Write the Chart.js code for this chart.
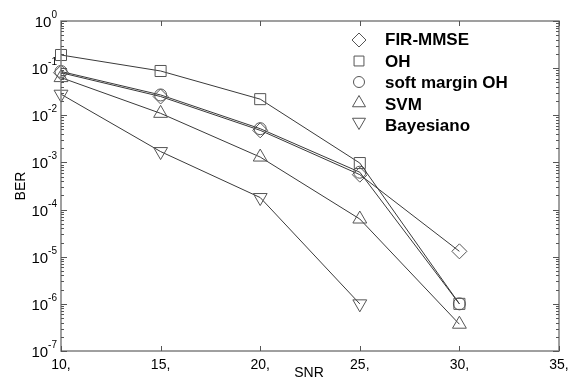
<!DOCTYPE html>
<html>
<head>
<meta charset="UTF-8">
<title>BER x SNR</title>
<script src="https://cdn.jsdelivr.net/npm/chart.js"></script>
<style>
  html, body { margin: 0; padding: 0; background: #fff; }
  #wrap { width: 573px; height: 387px; }
</style>
</head>
<body>
<div id="wrap"><canvas id="grafico"></canvas></div>
<script>
    // valores
    const snr = [10, 15, 20, 25, 30];
    const firMmse = [0.08, 0.025, 0.0048, 0.00055, 0.000013];
    const oh = [0.19, 0.087, 0.022, 0.00097, 0.000001];
    const softOh = [0.085, 0.027, 0.0052, 0.00062, 0.000001];
    const svm = [0.063, 0.011, 0.0013, 0.000063, 0.00000037];
    const bayesiano = [0.028, 0.0017, 0.00018, 0.000001];

    const xTicks = [10, 15, 20, 25, 30, 35];
    const yExp = [0, -1, -2, -3, -4, -5, -6, -7];
    const nomes = ['FIR-MMSE', 'OH', 'soft margin OH', 'SVM', 'Bayesiano'];

    const fonte = '"Liberation Sans", Arial, sans-serif';
    const corLinha = '#3a3a3a';
    const corMarca = '#555555';
    const corEixo = '#808080';

    function pontos(ys) {
        return ys.map((v, i) => ({ x: snr[i], y: v }));
    }

    const estilos = [
        { pointStyle: 'rectRot', pointRadius: 7.5, rotation: 0, leg: 7 },
        { pointStyle: 'rect', pointRadius: 7.8, rotation: 0, leg: 7 },
        { pointStyle: 'circle', pointRadius: 6, rotation: 0, leg: 5.5 },
        { pointStyle: 'triangle', pointRadius: 8, rotation: 0, leg: 7.5 },
        { pointStyle: 'triangle', pointRadius: 8, rotation: 180, leg: 7.5 }
    ];
    const series = [firMmse, oh, softOh, svm, bayesiano];

    const datasets = series.map((s, i) => ({
        label: nomes[i],
        data: pontos(s),
        borderColor: corLinha,
        borderWidth: 1,
        pointStyle: estilos[i].pointStyle,
        pointRadius: estilos[i].pointRadius,
        pointRotation: estilos[i].rotation,
        pointBorderColor: corMarca,
        pointBorderWidth: 1,
        pointBackgroundColor: 'rgba(0,0,0,0)',
        tension: 0,
        fill: false,
        clip: false
    }));

    const moldura = {
        id: 'moldura',
        afterDraw(chart) {
            const ctx = chart.ctx;
            const a = chart.chartArea;
            const xs = chart.scales.x;
            const ys = chart.scales.y;
            ctx.save();

            // caixa dos eixos
            ctx.strokeStyle = corEixo;
            ctx.lineWidth = 1.5;
            ctx.strokeRect(a.left, a.top, a.right - a.left, a.bottom - a.top);

            // ticks do eixo x (para dentro)
            ctx.lineWidth = 1;
            ctx.strokeStyle = '#555';
            xTicks.forEach(v => {
                const px = Math.round(xs.getPixelForValue(v)) + 0.5;
                ctx.beginPath();
                ctx.moveTo(px, a.bottom); ctx.lineTo(px, a.bottom - 5);
                ctx.moveTo(px, a.top); ctx.lineTo(px, a.top + 5);
                ctx.stroke();
            });

            // ticks do eixo y, maiores e menores
            for (let d = -7; d <= 0; d++) {
                for (let m = 1; m <= 9; m++) {
                    const v = m * Math.pow(10, d);
                    if (v > 1) break;
                    const py = Math.round(ys.getPixelForValue(v)) + 0.5;
                    const len = m === 1 ? 6 : 3;
                    ctx.beginPath();
                    ctx.moveTo(a.left, py); ctx.lineTo(a.left + len, py);
                    ctx.moveTo(a.right, py); ctx.lineTo(a.right - len, py);
                    ctx.stroke();
                }
            }

            // rotulos
            ctx.fillStyle = '#000';
            ctx.textBaseline = 'alphabetic';
            ctx.font = '14px ' + fonte;
            ctx.textAlign = 'center';
            xTicks.forEach(v => {
                ctx.fillText(v + ',', xs.getPixelForValue(v), a.bottom + 18);
            });

            yExp.forEach(e => {
                const py = ys.getPixelForValue(Math.pow(10, e));
                ctx.font = '10px ' + fonte;
                const txtE = String(e);
                const wE = ctx.measureText(txtE).width;
                ctx.textAlign = 'left';
                const xE = a.left - 4 - wE;
                ctx.fillText(txtE, xE, py - 3);
                ctx.font = '15px ' + fonte;
                ctx.textAlign = 'right';
                ctx.fillText('10', xE, py + 6);
            });

            // titulos dos eixos
            ctx.font = '14px ' + fonte;
            ctx.textAlign = 'center';
            ctx.fillText('SNR', 309, 377);
            ctx.save();
            ctx.translate(25, 186);
            ctx.rotate(-Math.PI / 2);
            ctx.fillText('BER', 0, 0);
            ctx.restore();

            // legenda
            const marcasY = [40, 61, 82, 103, 122];
            const textoY = [45, 67, 88, 110, 131];
            nomes.forEach((n, i) => {
                ctx.lineWidth = 1;
                ctx.strokeStyle = corMarca;
                ctx.fillStyle = 'rgba(0,0,0,0)';
                Chart.helpers.drawPoint(ctx, {
                    pointStyle: estilos[i].pointStyle,
                    radius: estilos[i].leg,
                    rotation: estilos[i].rotation,
                    borderWidth: 1
                }, 359, marcasY[i]);
                ctx.fillStyle = '#000';
                ctx.font = 'bold 17px ' + fonte;
                ctx.textAlign = 'left';
                ctx.fillText(n, 385, textoY[i]);
            });

            ctx.restore();
        }
    };

    const config = {
        type: 'line',
        data: { datasets: datasets },
        options: {
            responsive: true,
            maintainAspectRatio: false,
            animation: false,
            layout: { padding: { left: 61, right: 14, top: 21, bottom: 36 } },
            plugins: { legend: { display: false }, tooltip: { enabled: false } },
            scales: {
                x: {
                    type: 'linear', min: 10, max: 35,
                    grid: { display: false }, border: { display: false },
                    ticks: { display: false },
                    afterFit(s) { s.height = 0; }
                },
                y: {
                    type: 'logarithmic', min: 1e-7, max: 1,
                    grid: { display: false }, border: { display: false },
                    ticks: { display: false },
                    afterFit(s) { s.width = 0; }
                }
            }
        },
        plugins: [moldura]
    };

    const grafico = new Chart(document.getElementById('grafico'), config);
</script>
</body>
</html>
